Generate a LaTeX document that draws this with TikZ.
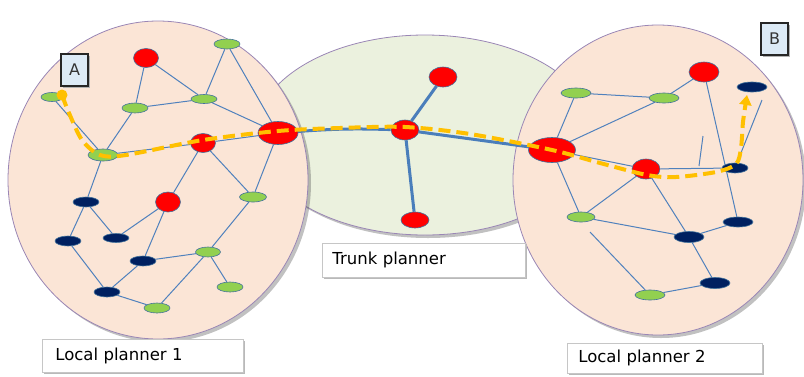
\documentclass[tikz,border=0pt]{standalone}
\usepackage{fontspec}
\setmainfont{DejaVu Sans}
\usetikzlibrary{shapes.geometric,shadows,arrows.meta}
\definecolor{peach}{HTML}{FBE5D6}
\definecolor{pale}{HTML}{EBF1DE}
\definecolor{rim}{HTML}{9A86B5}
\definecolor{edgeb}{HTML}{4F81BD}
\definecolor{trunkb}{HTML}{4A7EBB}
\definecolor{lgreen}{HTML}{92D050}
\definecolor{navy}{HTML}{002060}
\definecolor{nodeb}{HTML}{41719C}
\definecolor{yel}{HTML}{FFC000}
\definecolor{lblue}{HTML}{DCEAF6}
\pgfdeclarelayer{back}
\pgfdeclarelayer{edges}
\pgfdeclarelayer{top}
\pgfsetlayers{back,edges,main,top}
\tikzset{
  base/.style 2 args={ellipse, draw=nodeb, line width=.6pt, inner sep=0pt, minimum width=#1pt, minimum height=#2pt},
  gn/.style 2 args={base={#1}{#2}, fill=lgreen},
  rn/.style 2 args={base={#1}{#2}, fill=red},
  nv/.style 2 args={base={#1}{#2}, fill=navy},
  area/.style={fill=#1, draw=rim, line width=.8pt, drop shadow={shadow xshift=3pt, shadow yshift=-3pt, opacity=.35, fill=black!70}},
  link/.style={draw=edgeb, line width=1pt},
  trunk/.style={draw=trunkb, line width=3pt},
  route/.style={draw=yel, line width=4pt, dash pattern=on 12pt off 6pt, -{Triangle[length=10pt,width=12pt]}},
  lab/.style={draw=gray!45, fill=white, line width=.8pt, drop shadow={shadow xshift=2pt, shadow yshift=-2pt, fill=gray!55, opacity=1}, align=left, font=\fontsize{16.5}{18}\selectfont, anchor=north west},
  lbox/.style={draw=black!85, line width=1.2pt, fill=lblue, minimum width=27pt, minimum height=32pt, inner sep=0pt, font=\fontsize{16}{18}\selectfont\color{black!80}, drop shadow={shadow xshift=1.5pt, shadow yshift=-1.5pt, fill=gray!60, opacity=1}}
}
\begin{document}
\begin{tikzpicture}[x=1pt,y=-1pt]
\useasboundingbox (0,0) rectangle (804,376);
\begin{pgfonlayer}{back}
  \path[area=pale] (425,135) ellipse [x radius=170, y radius=100];
  \path[area=peach] (158,180) ellipse [x radius=150, y radius=159];
  \path[area=peach] (658,180) ellipse [x radius=145, y radius=155];
\end{pgfonlayer}

% left local planner
\node[gn={22}{9}] (gs) at (52,97) {};
\node[rn={25}{19}] (rt) at (146,58) {};
\node[gn={26}{10}] (g1) at (227,44) {};
\node[gn={26}{10}] (g2) at (135,108) {};
\node[gn={26}{9}] (g3) at (204,99) {};
\node[rn={40}{23}] (R1) at (278,133) {};
\node[rn={25}{19}] (r2) at (203,143) {};
\node[gn={30}{12}] (g4) at (103,155) {};
\node[nv={26}{10}] (n1) at (86,202) {};
\node[rn={25}{20}] (r3) at (168,202) {};
\node[gn={27}{10}] (g5) at (253,197) {};
\node[nv={26}{10}] (n2) at (68,241) {};
\node[nv={26}{9}] (n3) at (116,238) {};
\node[nv={26}{10}] (n4) at (143,261) {};
\node[gn={25}{10}] (g6) at (208,252) {};
\node[gn={26}{10}] (g7) at (230,287) {};
\node[nv={26}{10}] (n5) at (107,292) {};
\node[gn={26}{10}] (g8) at (157,308) {};

% trunk planner
\node[rn={28}{20}] (tc) at (405,130) {};
\node[rn={28}{20}] (tt) at (443,77) {};
\node[rn={28}{16}] (tb) at (415,220) {};
\node[rn={47}{25}] (R2) at (552,150) {};

% right local planner
\node[rn={30}{20}] (r4) at (704,72) {};
\node[nv={30}{10}] (m1) at (752,87) {};
\node[gn={30}{10}] (h1) at (576,93) {};
\node[gn={30}{10}] (h2) at (664,98) {};
\node[rn={28}{20}] (r5) at (646,169) {};
\node[nv={26}{10}] (m2) at (735,168) {};
\node[gn={28}{10}] (h3) at (581,217) {};
\node[nv={30}{10}] (m3) at (738,222) {};
\node[nv={30}{11}] (m4) at (689,237) {};
\node[nv={30}{11}] (m5) at (715,283) {};
\node[gn={30}{10}] (h4) at (650,295) {};
\coordinate (c1) at (762,100);
\coordinate (c2) at (703,136);
\coordinate (c3) at (699,166);
\coordinate (c4) at (590,232);

\begin{pgfonlayer}{edges}
  \path[link] (gs)--(g4) (rt)--(g2) (rt)--(g3) (g2)--(g3) (g1)--(g3) (g1)--(R1)
    (g3)--(R1) (g2)--(g4) (g4)--(r2) (r2)--(R1) (r2)--(r3) (r2)--(g5) (R1)--(g5)
    (g4)--(n1) (n1)--(n2) (n1)--(n3) (n3)--(r3) (r3)--(n4) (n4)--(g6) (g5)--(g6)
    (g6)--(g8) (g6)--(g7) (n2)--(n5) (n4)--(n5) (n5)--(g8);
  \path[link] (h1)--(h2) (h2)--(r4) (h1)--(R2) (h2)--(R2) (R2)--(r5) (R2)--(h3)
    (r5)--(h3) (r5)--(m4) (r4)--(m3) (m2)--(c1) (c2)--(c3) (r5)--(m2) (h3)--(m4)
    (m4)--(m3) (m4)--(m5) (m5)--(h4) (c4)--(h4);
  \path[trunk] (R1) to[bend left=3] (tc);
  \path[trunk] (tc)--(R2) (tc)--(tt) (tc)--(tb);
\end{pgfonlayer}

\begin{pgfonlayer}{top}
  \node[circle, fill=yel, minimum size=11pt, inner sep=0pt] (dot) at (62,95) {};
  \coordinate (p1) at (69,113);
  \coordinate (p2) at (82,140);
  \coordinate (p3) at (100,155);
  \coordinate (p4) at (126,155);
  \coordinate (p5) at (203,140);
  \coordinate (p6) at (278,131);
  \coordinate (p7) at (340,128);
  \coordinate (p8) at (405,127);
  \coordinate (p9) at (470,134);
  \coordinate (p10) at (552,150);
  \coordinate (p11) at (600,163);
  \coordinate (p12) at (647,175);
  \coordinate (p13) at (676,177);
  \coordinate (p14) at (716,172);
  \coordinate (p15) at (736,164);
  \coordinate (p16) at (741,148);
  \coordinate (p17) at (743,122);
  \coordinate (p18) at (747,95);
  \draw[route] plot[smooth, tension=.5] coordinates {(dot) (p1) (p2) (p3) (p4) (p5) (p6) (p7) (p8) (p9) (p10) (p11) (p12) (p13) (p14) (p15) (p16) (p17) (p18)};
\end{pgfonlayer}

\node[lbox] (A) at (74.5,70) {A};
\node[lbox] (B) at (774.5,39) {B};

\node[lab, text width=175pt, inner xsep=13pt, minimum height=33pt] (lp1) at (42,339) {Local planner 1};
\node[lab, text width=183pt, inner xsep=10pt, minimum height=34pt] (tp) at (322,243) {Trunk planner};
\node[lab, text width=173pt, inner xsep=11pt, minimum height=30pt] (lp2) at (567,343) {Local planner 2};
\end{tikzpicture}
\end{document}
